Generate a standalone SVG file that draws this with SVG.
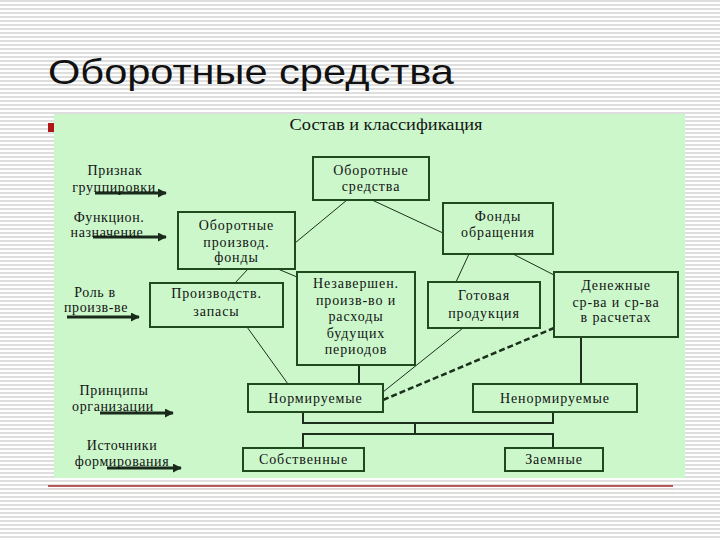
<svg xmlns="http://www.w3.org/2000/svg" width="720" height="540" viewBox="0 0 720 540">
<defs>
<pattern id="stripes" width="8" height="4" patternUnits="userSpaceOnUse">
<rect width="8" height="4" fill="#ffffff"/>
<rect y="0" width="8" height="2" fill="#dedede"/>
</pattern>
<marker id="ah" viewBox="0 0 10 10" refX="9" refY="5" markerWidth="3" markerHeight="3" orient="auto" markerUnits="strokeWidth">
<path d="M0,0 L10,5 L0,10 z" fill="#1a2a1a"/>
</marker>
<style>
.t{font-family:"Liberation Serif","DejaVu Serif",serif;font-size:14px;fill:#141414;text-anchor:middle;letter-spacing:0.9px}
.lbl{font-family:"Liberation Serif","DejaVu Serif",serif;font-size:14px;fill:#141414;text-anchor:middle;letter-spacing:0.6px}
.box{fill:#cbf7cb;stroke:#1f4a1f;stroke-width:2}
.ln{stroke:#1c301c;stroke-width:1;fill:none}
.tr{stroke:#1c301c;stroke-width:2;fill:none}
.arr{stroke:#1a2a1a;stroke-width:3;fill:none;marker-end:url(#ah)}
</style>
</defs>
<rect width="720" height="540" fill="url(#stripes)"/>
<text x="48" y="84" font-family="'Liberation Sans','DejaVu Sans',sans-serif" font-size="35" fill="#111" textLength="406" lengthAdjust="spacingAndGlyphs">Оборотные средства</text>
<rect x="54" y="114" width="631" height="364" fill="#cbf7cb"/>
<rect x="48" y="123" width="6" height="9" fill="#b01818"/>
<line x1="48" y1="486" x2="673" y2="486" stroke="#a02828" stroke-width="1.5"/>
<line x1="48" y1="488.5" x2="673" y2="488.5" stroke="#e0d0d0" stroke-width="1"/>
<text x="386" y="130" font-family="'Liberation Serif','DejaVu Serif',serif" font-size="16" fill="#141414" text-anchor="middle" textLength="193" lengthAdjust="spacingAndGlyphs">Состав и классификация</text>

<g id="connectors">
<line class="ln" x1="347" y1="200" x2="295" y2="243"/>
<line class="ln" x1="372" y1="200" x2="443" y2="233"/>
<line class="ln" x1="469" y1="254" x2="456" y2="282"/>
<line class="ln" x1="513" y1="254" x2="554" y2="275"/>
<line class="ln" x1="248" y1="269" x2="235" y2="283"/>
<line class="ln" x1="278" y1="269" x2="297" y2="277"/>
<line class="ln" x1="247" y1="327" x2="288" y2="384"/>
<line class="ln" x1="463" y1="328" x2="383" y2="392"/>
<line class="tr" x1="359" y1="365" x2="359" y2="384"/>
<line class="tr" x1="581" y1="337" x2="581" y2="384"/>
<line x1="383" y1="400" x2="554" y2="328" stroke="#1c301c" stroke-width="2.5" stroke-dasharray="6 3"/>
<polyline class="tr" points="303,412 303,423 553,423 553,412"/>
<line class="tr" x1="415" y1="423" x2="415" y2="434"/>
<polyline class="tr" points="303,448 303,434 553,434 553,448"/>
<line class="arr" x1="95" y1="193" x2="166" y2="193"/>
<line class="arr" x1="93" y1="237" x2="166" y2="237"/>
<line class="arr" x1="67" y1="317" x2="139" y2="317"/>
<line class="arr" x1="100" y1="413" x2="173" y2="413"/>
<line class="arr" x1="107" y1="468" x2="181" y2="468"/>
</g>

<g id="labels">
<text class="lbl" x="115" y="175">Признак</text>
<text class="lbl" x="114" y="192">группировки</text>
<text class="lbl" x="109" y="222">Функцион.</text>
<text class="lbl" x="107" y="237">назначение</text>
<text class="lbl" x="95" y="297">Роль в</text>
<text class="lbl" x="96" y="312">произв-ве</text>
<text class="lbl" x="114" y="395">Принципы</text>
<text class="lbl" x="113" y="411">организации</text>
<text class="lbl" x="122" y="450">Источники</text>
<text class="lbl" x="122" y="466">формирования</text>
</g>

<g id="n-os">
<rect class="box" x="313" y="157" width="116" height="43"/>
<text class="t" x="371" y="175">Оборотные</text>
<text class="t" x="371" y="191">средства</text>
</g>
<g id="n-opf">
<rect class="box" x="178" y="212" width="117" height="57"/>
<text class="t" x="236.5" y="230">Оборотные</text>
<text class="t" x="236.5" y="247">производ.</text>
<text class="t" x="236.5" y="262">фонды</text>
</g>
<g id="n-fo">
<rect class="box" x="443" y="203" width="110" height="51"/>
<text class="t" x="498" y="221">Фонды</text>
<text class="t" x="498" y="237">обращения</text>
</g>
<g id="n-pz">
<rect class="box" x="150" y="283" width="133" height="44"/>
<text class="t" x="216.5" y="298">Производств.</text>
<text class="t" x="216.5" y="316">запасы</text>
</g>
<g id="n-np">
<rect class="box" x="297" y="272" width="118" height="93"/>
<text class="t" x="356" y="288">Незавершен.</text>
<text class="t" x="356" y="304.5">произв-во и</text>
<text class="t" x="356" y="321">расходы</text>
<text class="t" x="356" y="337.5">будущих</text>
<text class="t" x="356" y="354">периодов</text>
</g>
<g id="n-gp">
<rect class="box" x="428" y="282" width="112" height="46"/>
<text class="t" x="484" y="300">Готовая</text>
<text class="t" x="484" y="318">продукция</text>
</g>
<g id="n-ds">
<rect class="box" x="554" y="272" width="124" height="65"/>
<text class="t" x="616" y="290">Денежные</text>
<text class="t" x="616" y="307">ср-ва и ср-ва</text>
<text class="t" x="616" y="322">в расчетах</text>
</g>
<g id="n-norm">
<rect class="box" x="248" y="384" width="135" height="28"/>
<text class="t" x="315.5" y="403">Нормируемые</text>
</g>
<g id="n-nenorm">
<rect class="box" x="473" y="384" width="164" height="28"/>
<text class="t" x="555" y="403">Ненормируемые</text>
</g>
<g id="n-sob">
<rect class="box" x="243" y="448" width="121" height="23"/>
<text class="t" x="303.5" y="464">Собственные</text>
</g>
<g id="n-zaem">
<rect class="box" x="505" y="448" width="98" height="23"/>
<text class="t" x="554" y="464">Заемные</text>
</g>
</svg>
